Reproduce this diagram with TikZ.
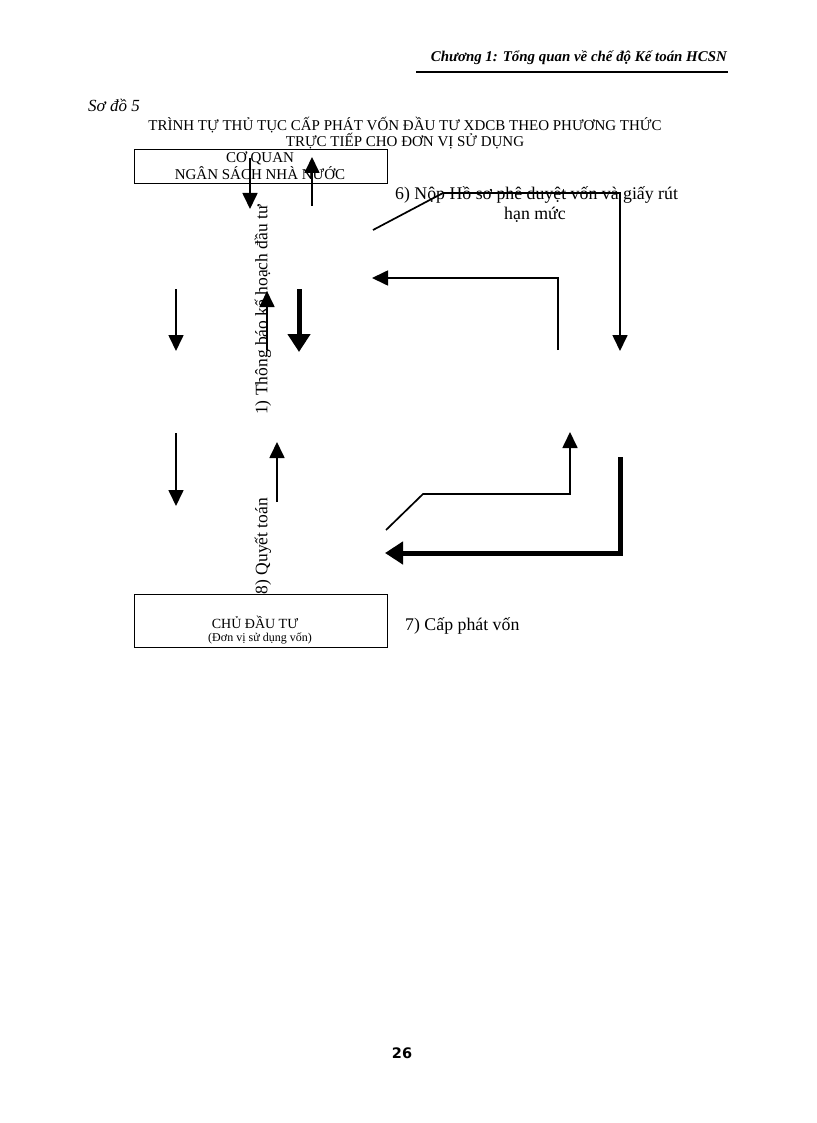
\documentclass[tikz,border=0pt]{standalone}
\usepackage{fontspec}
\setmainfont{Liberation Serif}
\newfontfamily\numfont{DejaVu Sans}
\usetikzlibrary{arrows.meta}
\begin{document}
\begin{tikzpicture}[x=1pt,y=-1pt,
  thinarrow/.style={line width=1.7pt,-{Triangle[width=15pt,length=16pt]}},
  thickarrow/.style={line width=5pt,-{Triangle[width=22pt,length=18pt]}},
  plainline/.style={line width=1.7pt},
  boxstyle/.style={draw,line width=1pt,inner sep=0pt},
  bodytext/.style={font=\fontsize{17.8}{20}\selectfont,inner sep=0pt},
  smalltext/.style={font=\fontsize{15}{17}\selectfont,inner sep=0pt,align=center}]
\useasboundingbox (0,0) rectangle (816,1123);
\fill[white] (0,0) rectangle (816,1123);

% header
\node[anchor=east,inner sep=0pt,font=\fontsize{14.9}{17}\selectfont\bfseries\itshape] (hdr) at (727,58) {Chương 1: Tổng quan về chế độ Kế toán HCSN};
\coordinate (hl) at (416,72);
\coordinate (hr) at (728,72);
\draw[line width=2pt] (hl) -- (hr);

\node[anchor=west,inner sep=0pt,font=\fontsize{17}{19}\selectfont\itshape] (sodo) at (88,105) {Sơ đồ 5};
\node[smalltext] (title1) at (405,125) {TRÌNH TỰ THỦ TỤC CẤP PHÁT VỐN ĐẦU TƯ XDCB THEO PHƯƠNG THỨC};
\node[smalltext] (title2) at (405,141) {TRỰC TIẾP CHO ĐƠN VỊ SỬ DỤNG};

% boxes
\node[boxstyle,minimum width=253pt,minimum height=34pt] (top) at (260.5,167) {};
\node[smalltext] (toptext) at (260,165.5) {CƠ QUAN\\NGÂN SÁCH NHÀ NƯỚC};
\node[boxstyle,minimum width=253pt,minimum height=53pt] (bot) at (260.5,620.5) {};
\node[inner sep=0pt,font=\fontsize{14}{16}\selectfont] (bottext1) at (255,622) {CHỦ ĐẦU TƯ};
\node[inner sep=0pt,font=\fontsize{12}{14}\selectfont] (bottext2) at (260,638) {(Đơn vị sử dụng vốn)};

% rotated labels
\node[bodytext,font=\fontsize{17.5}{20}\selectfont,rotate=90] (lab1) at (263,310) {1) Thông báo kế hoạch đầu tư};
\node[bodytext,font=\fontsize{17.5}{20}\selectfont,rotate=90] (lab8) at (263,546) {8) Quyết toán};
\node[bodytext,anchor=west] (lab6a) at (395,195) {6) Nộp Hồ sơ phê duyệt vốn và giấy rút};
\node[bodytext] (lab6b) at (535,215) {hạn mức};
\node[bodytext,anchor=west] (lab7) at (405,626) {7) Cấp phát vốn};

% arrows near top box
\coordinate (a1s) at (250,158); \coordinate (a1e) at (250,209);
\draw[thinarrow] (a1s) -- (a1e);
\coordinate (a2s) at (312,206); \coordinate (a2e) at (312,157);
\draw[thinarrow] (a2s) -- (a2e);

% left column
\coordinate (a3s) at (176,289); \coordinate (a3e) at (176,351);
\draw[thinarrow] (a3s) -- (a3e);
\coordinate (a4s) at (176,433); \coordinate (a4e) at (176,506);
\draw[thinarrow] (a4s) -- (a4e);

% middle column
\coordinate (a5s) at (267,350); \coordinate (a5e) at (267,291);
\draw[thinarrow] (a5s) -- (a5e);
\coordinate (a6s) at (299,289); \coordinate (a6e) at (299,352);
\draw[thickarrow] (a6s) -- (a6e);
\coordinate (a7s) at (277,502); \coordinate (a7e) at (277,442);
\draw[thinarrow] (a7s) -- (a7e);

% right upper
\coordinate (b1) at (373,230); \coordinate (b2) at (443,193);
\coordinate (b3) at (620,193); \coordinate (b4) at (620,351);
\draw[thinarrow] (b1) -- (b2) -- (b3) -- (b4);
\coordinate (c1) at (558,350); \coordinate (c2) at (558,278);
\coordinate (c3) at (372,278);
\draw[thinarrow] (c1) -- (c2) -- (c3);

% right lower
\coordinate (d1) at (386,530); \coordinate (d2) at (423,494);
\coordinate (d3) at (570,494); \coordinate (d4) at (570,432);
\draw[thinarrow] (d1) -- (d2) -- (d3) -- (d4);
\coordinate (e1) at (620,457); \coordinate (e2) at (620,553);
\coordinate (e3) at (385,553);
\draw[thickarrow] (e1) -- (e2) -- (e3);

% page number
\node[inner sep=0pt,font=\numfont\bfseries\fontsize{14.5}{17}\selectfont] (pg) at (402,1053) {26};
\end{tikzpicture}
\end{document}
